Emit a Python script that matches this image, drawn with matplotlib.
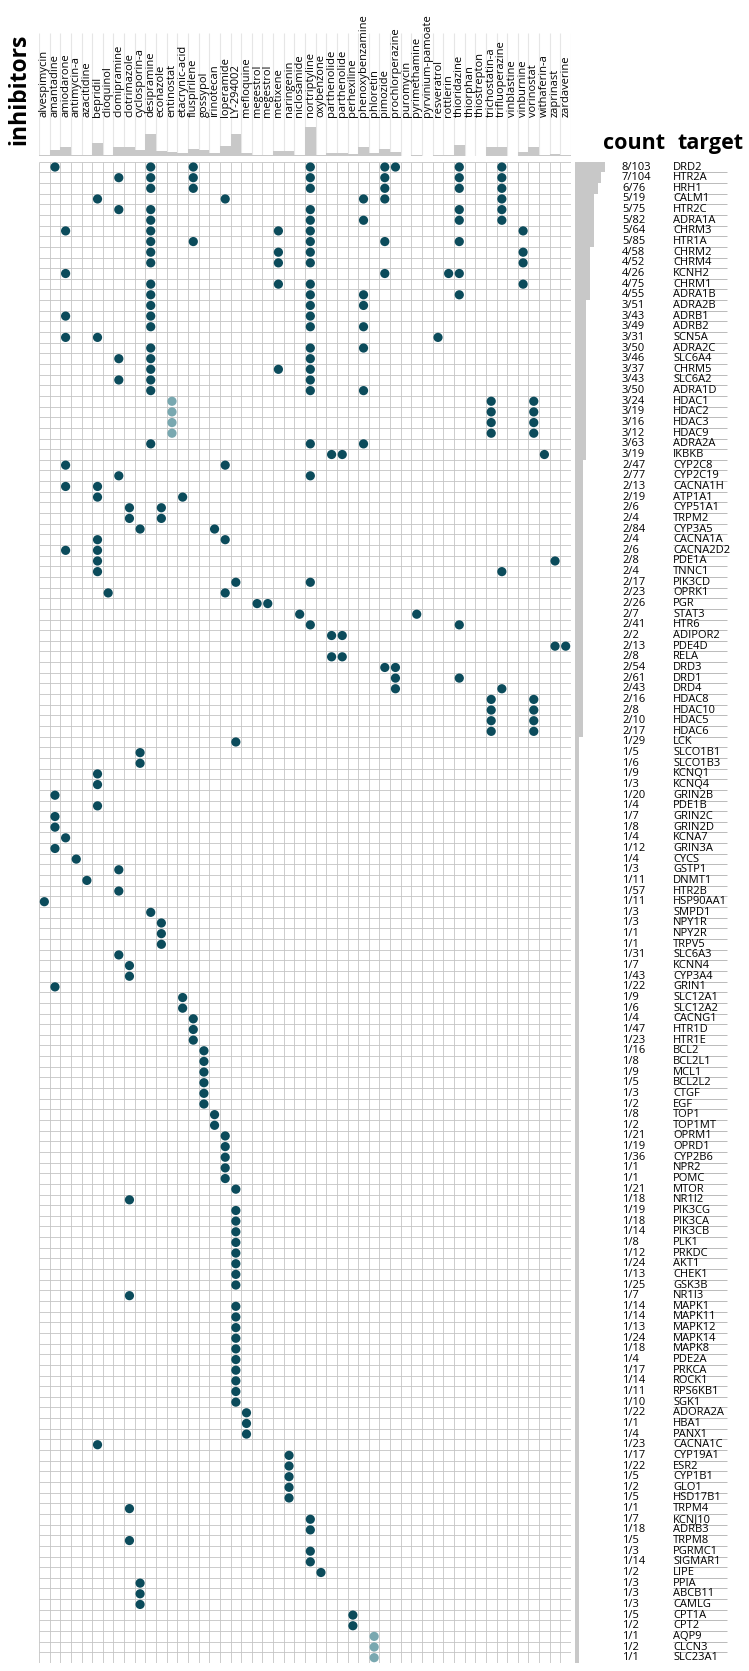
import numpy as np
import matplotlib
matplotlib.use('Agg')
import matplotlib.pyplot as plt

plt.rcParams['font.family'] = ['Open Sans', 'DejaVu Sans']

inhibitors = ['alvespimycin', 'amantadine', 'amiodarone', 'antimycin-a', 'azacitidine',
              'bepridil', 'clioquinol', 'clomipramine', 'clotrimazole', 'cyclosporin-a',
              'desipramine', 'econazole', 'entinostat', 'etacrynic-acid', 'fluspirilene',
              'gossypol', 'irinotecan', 'loperamide', 'LY-294002', 'mefloquine',
              'megestrol', 'megestrol', 'metixene', 'naringenin', 'niclosamide',
              'nortriptyline', 'oxybenzone', 'parthenolide', 'parthenolide', 'perhexiline',
              'phenoxybenzamine', 'phloretin', 'pimozide', 'prochlorperazine', 'puromycin',
              'pyrimethamine', 'pyrvinium-pamoate', 'resveratrol', 'rottlerin', 'thioridazine',
              'thiorphan', 'thiostrepton', 'trichostatin-a', 'trifluoperazine', 'vinblastine',
              'vinburnine', 'vorinostat', 'withaferin-a', 'zaprinast', 'zardaverine']

# inhibitors drawn in the lighter tone
light_cols = [12, 31]

targets = ['DRD2', 'HTR2A', 'HRH1', 'CALM1', 'HTR2C', 'ADRA1A', 'CHRM3', 'HTR1A', 'CHRM2',
           'CHRM4', 'KCNH2', 'CHRM1', 'ADRA1B', 'ADRA2B', 'ADRB1', 'ADRB2', 'SCN5A',
           'ADRA2C', 'SLC6A4', 'CHRM5', 'SLC6A2', 'ADRA1D', 'HDAC1', 'HDAC2', 'HDAC3',
           'HDAC9', 'ADRA2A', 'IKBKB', 'CYP2C8', 'CYP2C19', 'CACNA1H', 'ATP1A1', 'CYP51A1',
           'TRPM2', 'CYP3A5',
           'CACNA1A', 'CACNA2D2', 'PDE1A', 'TNNC1', 'PIK3CD', 'OPRK1', 'PGR', 'STAT3',
           'HTR6', 'ADIPOR2', 'PDE4D', 'RELA', 'DRD3', 'DRD1', 'DRD4', 'HDAC8', 'HDAC10',
           'HDAC5',
           'HDAC6', 'LCK', 'SLCO1B1', 'SLCO1B3', 'KCNQ1', 'KCNQ4', 'GRIN2B', 'PDE1B',
           'GRIN2C', 'GRIN2D', 'KCNA7', 'GRIN3A', 'CYCS', 'GSTP1', 'DNMT1', 'HTR2B',
           'HSP90AA1', 'SMPD1',
           'NPY1R', 'NPY2R', 'TRPV5', 'SLC6A3', 'KCNN4', 'CYP3A4', 'GRIN1', 'SLC12A1',
           'SLC12A2', 'CACNG1', 'HTR1D', 'HTR1E', 'BCL2', 'BCL2L1', 'MCL1', 'BCL2L2',
           'CTGF', 'EGF',
           'TOP1', 'TOP1MT', 'OPRM1', 'OPRD1', 'CYP2B6', 'NPR2', 'POMC', 'MTOR', 'NR1I2',
           'PIK3CG', 'PIK3CA', 'PIK3CB', 'PLK1', 'PRKDC', 'AKT1', 'CHEK1', 'GSK3B', 'NR1I3',
           'MAPK1', 'MAPK11', 'MAPK12', 'MAPK14', 'MAPK8', 'PDE2A', 'PRKCA', 'ROCK1',
           'RPS6KB1', 'SGK1', 'ADORA2A', 'HBA1', 'PANX1', 'CACNA1C', 'CYP19A1', 'ESR2',
           'CYP1B1', 'GLO1',
           'HSD17B1', 'TRPM4', 'KCNJ10', 'ADRB3', 'TRPM8', 'PGRMC1', 'SIGMAR1', 'LIPE',
           'PPIA', 'ABCB11', 'CAMLG', 'CPT1A', 'CPT2', 'AQP9', 'CLCN3', 'SLC23A1']

# total number of known inhibitors per target (denominator of "count")
totals = [103, 104, 76, 19, 75, 82, 64, 85, 58, 52, 26, 75, 55, 51, 43, 49, 31,
          50, 46, 37, 43, 50, 24, 19, 16, 12, 63, 19, 47, 77, 13, 19, 6, 4, 84,
          4, 6, 8, 4, 17, 23, 26, 7, 41, 2, 13, 8, 54, 61, 43, 16, 8, 10,
          17, 29, 5, 6, 9, 3, 20, 4, 7, 8, 4, 12, 4, 3, 11, 57, 11, 3,
          3, 1, 1, 31, 7, 43, 22, 9, 6, 4, 47, 23, 16, 8, 9, 5, 3, 2,
          8, 2, 21, 19, 36, 1, 1, 21, 18, 19, 18, 14, 8, 12, 24, 13, 25, 7,
          14, 14, 13, 24, 18, 4, 17, 14, 11, 10, 22, 1, 4, 23, 17, 22, 5, 2,
          5, 1, 7, 18, 5, 3, 14, 2, 3, 3, 3, 5, 2, 1, 2, 1]

# inhibitor column indices hitting each target (same order as targets)
hits = [[1, 10, 14, 25, 32, 33, 39, 43], [7, 10, 14, 25, 32, 39, 43],
        [10, 14, 25, 32, 39, 43], [5, 17, 30, 32, 43], [7, 10, 25, 39, 43],
        [10, 25, 30, 39, 43], [2, 10, 22, 25, 45], [10, 14, 25, 32, 39],
        [10, 22, 25, 45], [10, 22, 25, 45], [2, 32, 38, 39], [10, 22, 25, 45],
        [10, 25, 30, 39], [10, 25, 30], [2, 10, 25], [10, 25, 30], [2, 5, 37],
        [10, 25, 30], [7, 10, 25], [10, 22, 25], [7, 10, 25], [10, 25, 30],
        [12, 42, 46], [12, 42, 46], [12, 42, 46], [12, 42, 46], [10, 25, 30],
        [27, 28, 47], [2, 17], [7, 25], [2, 5], [5, 13], [8, 11], [8, 11], [9, 16],
        [5, 17], [2, 5], [5, 48], [5, 43], [18, 25], [6, 17], [20, 21], [24, 35],
        [25, 39], [27, 28], [48, 49], [27, 28], [32, 33], [33, 39], [33, 43],
        [42, 46], [42, 46], [42, 46],
        [42, 46], [18], [9], [9], [5], [5], [1], [5], [1], [1], [2], [1], [3], [7],
        [4], [7], [0], [10],
        [11], [11], [11], [7], [8], [8], [1], [13], [13], [14], [14], [14], [15],
        [15], [15], [15], [15], [15],
        [16], [16], [17], [17], [17], [17], [17], [18], [8], [18], [18], [18], [18],
        [18], [18], [18], [18], [8],
        [18], [18], [18], [18], [18], [18], [18], [18], [18], [18], [19], [19], [19],
        [5], [23], [23], [23], [23],
        [23], [8], [25], [25], [8], [25], [25], [26], [9], [9], [9], [29], [29],
        [31], [31], [31]]

DARK = '#0b4b5b'
LIGHT = '#79a8b0'
BAR = '#c8c8c8'
GRID = '#c4c4c4'

W, H = 749, 1671
fig = plt.figure(figsize=(W / 100, H / 100), dpi=100)


def px_axes(x0, y0, x1, y1):
    a = fig.add_axes([x0 / W, 1 - y1 / H, (x1 - x0) / W, (y1 - y0) / H])
    a.axis('off')
    return a


n_col = len(inhibitors)
n_row = len(targets)
gx0, gx1, gy0, gy1 = 39, 571, 161.7, 1663

# main dot grid
ax = px_axes(gx0, gy0, gx1, gy1)
ax.set_xlim(0, n_col)
ax.set_ylim(n_row, 0)
ax.vlines(np.arange(n_col + 1), 0, n_row, color=GRID, lw=0.6, zorder=1)
ax.hlines(np.arange(n_row + 1), 0, n_col, color=GRID, lw=0.6, zorder=1)
xs, ys, cs = [], [], []
for r, cols in enumerate(hits):
    for c in cols:
        xs.append(c + 0.5)
        ys.append(r + 0.5)
        cs.append(LIGHT if c in light_cols else DARK)
ax.scatter(xs, ys, s=44, c=cs, linewidths=0, zorder=3, clip_on=False)

# top bars: number of targets per inhibitor
col_counts = [sum(c in h for h in hits) for c in range(n_col)]
px_per = 1.07
top = px_axes(gx0, 33, gx1, 156)
top.set_xlim(0, n_col)
top.set_ylim(0, 123 / px_per)
top.vlines(np.arange(n_col + 1), 0, 123 / px_per, color='#e6e6e6', lw=0.8, zorder=1)
top.bar(np.arange(n_col) + 0.5, col_counts, width=1.0, color=BAR, zorder=2)
for i, name in enumerate(inhibitors):
    top.text(i + 0.5, (156 - 117) / px_per, name, rotation=90, ha='center',
             va='bottom', fontsize=8, color='black')

# right bars: number of inhibitors per target
row_counts = [len(h) for h in hits]
rx0 = 575
rpx = 3.75
rax = px_axes(rx0, gy0, W, gy1)
rax.set_xlim(0, (W - rx0) / rpx)
rax.set_ylim(n_row, 0)
rax.barh(np.arange(n_row) + 0.5, row_counts, height=1.0, color=BAR)
cx = (622 - rx0) / rpx
tx = (673 - rx0) / rpx
tx1 = (727 - rx0) / rpx
for r, (t, n, tot) in enumerate(zip(targets, row_counts, totals)):
    rax.text(cx, r + 0.5, f'{n}/{tot}', va='center', ha='left', fontsize=8)
    rax.text(tx, r + 0.5, t, va='center', ha='left', fontsize=8)
rax.hlines(np.arange(n_row) + 1, tx, tx1, color='#b0b0b0', lw=0.6)

fig.text(19 / W, 1 - 145 / H, 'inhibitors', rotation=90, ha='center', va='bottom',
         fontsize=16.5, fontweight='bold')
fig.text(603 / W, 1 - 149 / H, 'count', fontsize=15.5, fontweight='bold', va='baseline')
fig.text(678 / W, 1 - 149 / H, 'target', fontsize=15.5, fontweight='bold', va='baseline')

fig.savefig('out.png', dpi=100)
